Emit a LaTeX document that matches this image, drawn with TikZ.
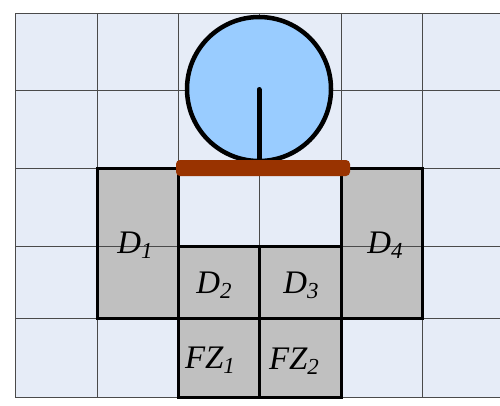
\documentclass[tikz,border=0pt]{standalone}
\usepackage{fontspec}
\setmainfont{Liberation Serif}
\definecolor{bgc}{HTML}{E6ECF7}
\definecolor{boxc}{HTML}{C0C0C0}
\definecolor{circc}{HTML}{99CCFF}
\definecolor{barc}{HTML}{993300}
\definecolor{gridc}{HTML}{4A4A4A}
\newcommand{\sublab}[2]{#1\raisebox{-5bp}{\fontsize{23}{23}\selectfont #2}}
\begin{document}
\begin{tikzpicture}[x=1bp,y=-1bp,
  gridline/.style={draw=gridc,line width=0.9bp},
  boldbox/.style={draw=black,line width=3bp},
  graybox/.style={fill=boxc},
  lab/.style={anchor=base,inner sep=0pt,font=\fontsize{33}{33}\selectfont\itshape}]
\useasboundingbox (0,0) rectangle (500,405);
% background
\fill[bgc] (15,13) rectangle (500,397);
% gray cells
\fill[graybox] (97,168) rectangle (178,318);
\fill[graybox] (341,168) rectangle (422,318);
\fill[graybox] (178,246) rectangle (341,397);
% grid
\foreach \x in {15,97,178,259,341,422}
  \draw[gridline] (\x,13) -- (\x,397);
\foreach \y in {13,90,168,246,318,397}
  \draw[gridline] (15,\y) -- (500,\y);
% bold outlines
\draw[boldbox] (97,168) rectangle (178,318);
\draw[boldbox] (341,168) rectangle (422,318);
\draw[boldbox] (178,246) rectangle (259,318);
\draw[boldbox] (259,246) rectangle (341,318);
\draw[boldbox] (178,318) rectangle (259,397);
\draw[boldbox] (259,318) rectangle (341,397);
% wheel
\draw[line width=4.5bp,fill=circc] (259,89) circle[radius=72];
\draw[line width=5bp,line cap=round] (259,89.5) -- (259,165);
% bar
\fill[barc,rounded corners=4bp] (176,160) rectangle (350,176);
% labels
\node[lab] (d1) at (135,253) {\sublab{D}{1}};
\node[lab] (d2) at (214,293) {\sublab{D}{2}};
\node[lab] (d3) at (301,293) {\sublab{D}{3}};
\node[lab] (d4) at (385,253) {\sublab{D}{4}};
\node[lab] (fz1) at (210,368) {\sublab{FZ}{1}};
\node[lab] (fz2) at (294,369) {\sublab{FZ}{2}};
\end{tikzpicture}
\end{document}
